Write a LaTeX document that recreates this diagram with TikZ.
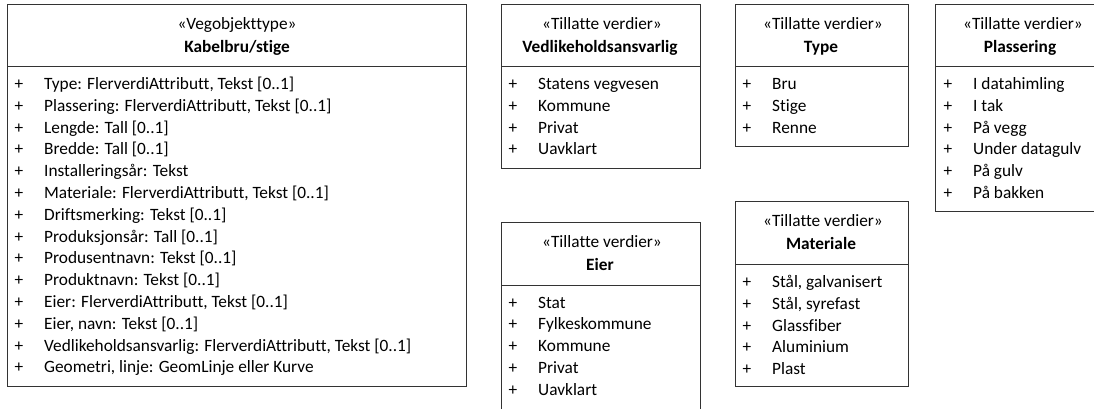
\documentclass[tikz,border=0pt]{standalone}
\usepackage{fontspec}
\setmainfont{Carlito}[Ligatures=NoCommon]
\begin{document}
\begin{tikzpicture}[x=1pt,y=-1pt,
  font=\fontsize{17.3}{20}\selectfont,
  umlpart/.style={draw=black!80, line width=0.9pt, rectangle, inner sep=0pt, anchor=north west},
  hdr/.style={anchor=base, inner sep=0pt, text=black},
  itm/.style={anchor=base west, inner sep=0pt, text=black},
  plus/.style={anchor=base, inner sep=0pt, text=black}]
\useasboundingbox (0,0) rectangle (1094,408);
\clip (0,0) rectangle (1094,408);

% ---------- Kabelbru/stige ----------
\node[umlpart, minimum width=459pt, minimum height=62pt] (mh) at (7,4) {};
\node[umlpart, minimum width=459pt, minimum height=320pt] (mb) at (7,66) {};
\node[hdr] (ms) at (237,29) {«Vegobjekttype»};
\node[hdr] (mn) at (237,52) {\bfseries Kabelbru/stige};
\foreach \t [count=\i from 0] in {
  {Type: FlerverdiAttributt, Tekst [0..1]},
  {Plassering: FlerverdiAttributt, Tekst [0..1]},
  {Lengde: Tall [0..1]},
  {Bredde: Tall [0..1]},
  {Installeringsår: Tekst},
  {Materiale: FlerverdiAttributt, Tekst [0..1]},
  {Driftsmerking: Tekst [0..1]},
  {Produksjonsår: Tall [0..1]},
  {Produsentnavn: Tekst [0..1]},
  {Produktnavn: Tekst [0..1]},
  {Eier: FlerverdiAttributt, Tekst [0..1]},
  {Eier, navn: Tekst [0..1]},
  {Vedlikeholdsansvarlig: FlerverdiAttributt, Tekst [0..1]},
  {Geometri, linje: GeomLinje eller Kurve}} {
  \node[plus] (mp\i) at (19,{89.5+21.8*\i}) {+};
  \node[itm] (mi\i) at (44,{89.5+21.8*\i}) {\t};
}

% ---------- Vedlikeholdsansvarlig ----------
\node[umlpart, minimum width=199pt, minimum height=62pt] (vh) at (501,4) {};
\node[umlpart, minimum width=199pt, minimum height=102pt] (vb) at (501,66) {};
\node[hdr] (vs) at (602,29) {«Tillatte verdier»};
\node[hdr] (vn) at (600,52) {\bfseries Vedlikeholdsansvarlig};
\foreach \t [count=\i from 0] in {Statens vegvesen, Kommune, Privat, Uavklart} {
  \node[plus] (vp\i) at (513,{89.5+21.8*\i}) {+};
  \node[itm] (vi\i) at (538,{89.5+21.8*\i}) {\t};
}

% ---------- Type ----------
\node[umlpart, minimum width=173pt, minimum height=62pt] (th) at (735,4) {};
\node[umlpart, minimum width=173pt, minimum height=80pt] (tb) at (735,66) {};
\node[hdr] (ts) at (823,29) {«Tillatte verdier»};
\node[hdr] (tn) at (821,52) {\bfseries Type};
\foreach \t [count=\i from 0] in {Bru, Stige, Renne} {
  \node[plus] (tp\i) at (747,{89.5+21.8*\i}) {+};
  \node[itm] (ti\i) at (772,{89.5+21.8*\i}) {\t};
}

% ---------- Plassering ----------
\node[umlpart, minimum width=173pt, minimum height=62pt] (ph) at (935,4) {};
\node[umlpart, minimum width=173pt, minimum height=145pt] (pb) at (935,66) {};
\node[hdr] (ps) at (1023,29) {«Tillatte verdier»};
\node[hdr] (pn) at (1020,52) {\bfseries Plassering};
\foreach \t [count=\i from 0] in {I datahimling, I tak, På vegg, Under datagulv, På gulv, På bakken} {
  \node[plus] (pp\i) at (948,{89.5+21.8*\i}) {+};
  \node[itm] (pi\i) at (973,{89.5+21.8*\i}) {\t};
}

% ---------- Eier ----------
\node[umlpart, minimum width=199pt, minimum height=63pt] (eh) at (501,222) {};
\node[umlpart, minimum width=199pt, minimum height=150pt] (eb) at (501,285) {};
\node[hdr] (es) at (602,247) {«Tillatte verdier»};
\node[hdr] (en) at (600,270) {\bfseries Eier};
\foreach \t [count=\i from 0] in {Stat, Fylkeskommune, Kommune, Privat, Uavklart} {
  \node[plus] (ep\i) at (513,{308+21.8*\i}) {+};
  \node[itm] (ei\i) at (538,{308+21.8*\i}) {\t};
}

% ---------- Materiale ----------
\node[umlpart, minimum width=173pt, minimum height=63pt] (ah) at (735,201) {};
\node[umlpart, minimum width=173pt, minimum height=122pt] (ab) at (735,264) {};
\node[hdr] (as) at (823,226) {«Tillatte verdier»};
\node[hdr] (an) at (821,249) {\bfseries Materiale};
\foreach \t [count=\i from 0] in {{Stål, galvanisert}, {Stål, syrefast}, Glassfiber, Aluminium, Plast} {
  \node[plus] (ap\i) at (747,{287.5+21.8*\i}) {+};
  \node[itm] (ai\i) at (772,{287.5+21.8*\i}) {\t};
}
\end{tikzpicture}
\end{document}
